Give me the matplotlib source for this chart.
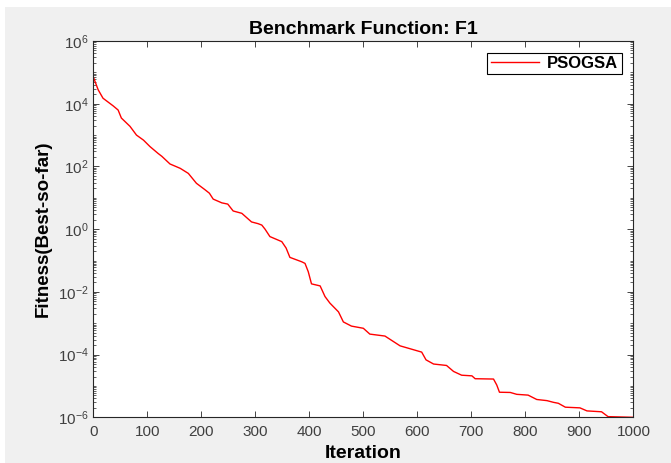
import matplotlib
matplotlib.use("Agg")
import matplotlib.pyplot as plt
import numpy as np
from matplotlib.ticker import LogLocator, NullFormatter
from matplotlib.patches import Rectangle

plt.rcParams['font.family'] = ['Liberation Sans', 'DejaVu Sans']

# best-so-far curve
iteration = [1, 9, 18, 37, 46, 52, 68, 80, 93, 105, 120, 127, 142, 161, 176,
             191, 207, 215, 222, 238, 249, 259, 275, 293, 305, 312, 318, 327,
             349, 357, 364, 386, 392, 398, 404, 420, 429, 438, 454, 463, 478,
             500, 512, 540, 568, 583, 608, 616, 630, 654, 667, 682, 701, 707,
             741, 747, 752, 772, 784, 805, 821, 840, 852, 861, 874, 901, 914,
             941, 953, 1000]
fitness = [6.5e4, 2.8e4, 1.5e4, 8.5e3, 6.3e3, 3.5e3, 1.9e3, 1.0e3, 6.9e2, 4.3e2,
           2.6e2, 2.1e2, 1.2e2, 87, 60, 29, 18, 14, 9.1, 6.9, 6.3, 3.8, 3.2,
           1.7, 1.5, 1.35, 1.0, 0.58, 0.40, 0.25, 0.126, 0.091, 0.081, 0.044,
           0.018, 0.0155, 7.1e-3, 4.4e-3, 2.3e-3, 1.1e-3, 8.1e-4, 6.9e-4,
           4.5e-4, 3.9e-4, 1.9e-4, 1.6e-4, 1.2e-4, 6.8e-5, 5.0e-5, 4.5e-5,
           2.9e-5, 2.2e-5, 2.1e-5, 1.7e-5, 1.66e-5, 1.07e-5, 6.3e-6, 6.2e-6,
           5.4e-6, 5.1e-6, 3.7e-6, 3.4e-6, 3.0e-6, 2.8e-6, 2.1e-6, 2.0e-6,
           1.6e-6, 1.5e-6, 1.05e-6, 1.0e-6]
xticks = [0, 100, 200, 300, 400, 500, 600, 700, 800, 900, 1000]
yticks = [1e-6, 1e-4, 1e-2, 1e0, 1e2, 1e4, 1e6]

fig = plt.figure(figsize=(6.71, 4.63), dpi=100, facecolor='white')
fig.patches.append(Rectangle((5 / 671, 0), 1, 1 - 7 / 463, transform=fig.transFigure,
                             facecolor='#f0f0f0', edgecolor='none', zorder=-10))
ax = fig.add_axes([0.139, 0.0987, 0.805, 0.8127])

ax.semilogy(iteration, fitness, color='red', lw=1.0, label='PSOGSA')

ax.set_xlim(0, 1000)
ax.set_ylim(1e-6, 1e6)
ax.set_xticks(xticks)
ax.set_yticks(yticks)
ax.yaxis.set_minor_locator(LogLocator(base=10, subs=np.arange(1, 10), numticks=100))
ax.yaxis.set_minor_formatter(NullFormatter())

gray = '#262626'
ax.tick_params(which='both', direction='in', top=True, right=True, colors=gray,
               labelsize=11, labelcolor='#404040')
ax.tick_params(which='major', length=4.5, width=0.6)
ax.tick_params(which='minor', length=2.2, width=0.5)
ax.tick_params(axis='x', pad=5.5)
for s in ax.spines.values():
    s.set_color(gray)
    s.set_linewidth(0.8)

ax.set_title('Benchmark Function: F1', fontsize=14, fontweight='bold', pad=5)
ax.set_xlabel('Iteration', fontsize=14, fontweight='bold', labelpad=4.5)
ax.set_ylabel('Fitness(Best-so-far)', fontsize=13.5, fontweight='bold', labelpad=4)

leg = ax.legend(loc='upper right', fancybox=False, framealpha=1, edgecolor='black',
                prop={'weight': 'bold', 'size': 12}, handlelength=2.9,
                handletextpad=0.5, borderaxespad=0.7, borderpad=0.2)
leg.get_frame().set_linewidth(0.8)

fig.savefig('out.png', dpi=100, facecolor=fig.get_facecolor())
